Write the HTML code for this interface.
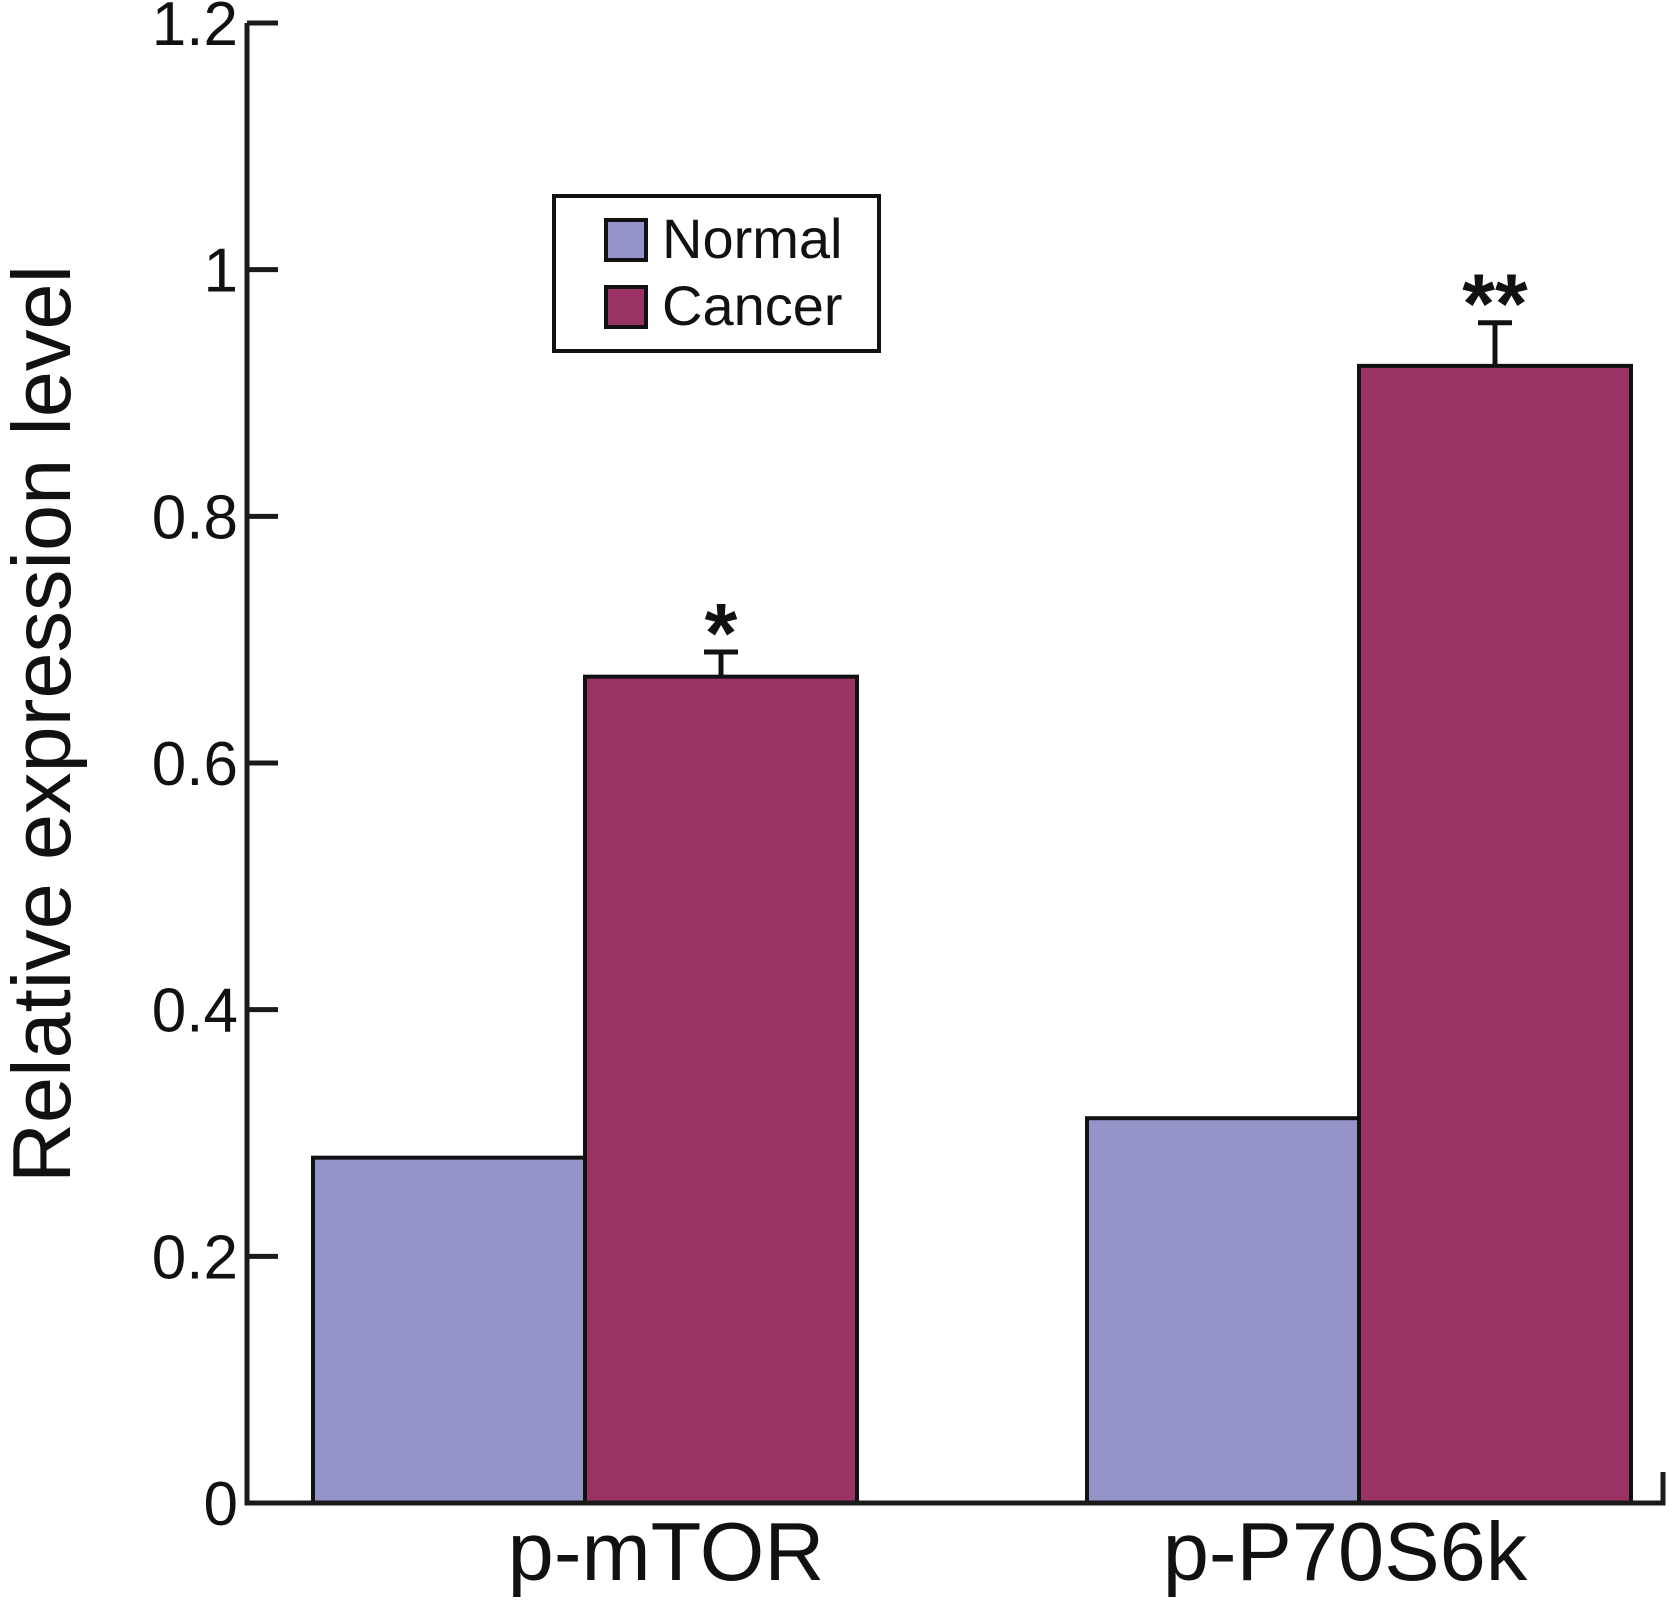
<!DOCTYPE html>
<html><head><meta charset="utf-8"><style>
html,body{margin:0;padding:0;background:#fff;}
svg{display:block;font-family:"Liberation Sans",Arial,sans-serif;}
</style></head><body>
<svg id="chart" width="1677" height="1606" viewBox="0 0 1677 1606" xmlns="http://www.w3.org/2000/svg"></svg>
<script>
const categories = ["p-mTOR", "p-P70S6k"];
const normalValues = [0.28, 0.312];
const cancerValues = [0.67, 0.922];
const cancerErrors = [0.02, 0.035];
const significance = ["*", "**"];
const yTicks = [0, 0.2, 0.4, 0.6, 0.8, 1, 1.2];
const yTickLabels = ["0", "0.2", "0.4", "0.6", "0.8", "1", "1.2"];

const NS = "http://www.w3.org/2000/svg";
const svg = document.getElementById("chart");
const x0 = 247, yBase = 1503, yTop = 23, yMax = 1.2;
function yScale(v){ return yBase - (v / yMax) * (yBase - yTop); }
const groupLeft = [313, 1087];
const labelShift = [81, -14];
const barW = 272;
function el(tag, attrs, parent){
  const e = document.createElementNS(NS, tag);
  for (const k in attrs) e.setAttribute(k, attrs[k]);
  (parent || svg).appendChild(e);
  return e;
}

categories.forEach((c, i) => {
  const xl = groupLeft[i];
  const yn = yScale(normalValues[i]);
  const nb = el("rect", {x: xl, y: yn, width: barW, height: yBase - yn, fill: "#9494c8", stroke: "#111", "stroke-width": 4});
  
  
  const yc = yScale(cancerValues[i]);
  const cb = el("rect", {x: xl + barW, y: yc, width: barW, height: yBase - yc, fill: "#9b3264", stroke: "#111", "stroke-width": 4});
  
  
  const cx = xl + barW * 1.5;
  const ye = yScale(cancerValues[i] + cancerErrors[i]);
  const eb = el("path", {d: `M${cx},${yc} V${ye} M${cx-17},${ye} H${cx+17}`, stroke: "#111", "stroke-width": 5, fill: "none"});
  
  
  const st = el("text", {x: cx, y: ye + 10, "text-anchor": "middle", "font-size": 84, "font-weight": "bold", fill: "#111"});
  st.textContent = significance[i];
  
  
  const lb = el("text", {x: xl + barW + labelShift[i], y: 1580, "text-anchor": "middle", "font-size": 83, fill: "#111"});
  lb.textContent = c;
  
  
});

const ax = el("path", {d: `M${x0},${yTop} V${yBase} H1663 V1472`, stroke: "#1a1a1a", "stroke-width": 5, fill: "none"});


yTicks.forEach((t, i) => {
  const y = yScale(t);
  const tk = el("line", {x1: x0, x2: 278, y1: y, y2: y, stroke: "#1a1a1a", "stroke-width": 5});
  
  
  const tl = el("text", {x: 238, y: y + 22, "text-anchor": "end", "font-size": 62, fill: "#111"});
  tl.textContent = yTickLabels[i];
  
  
});
const yt = el("text", {x: 0, y: 0, "text-anchor": "middle", "font-size": 83, fill: "#111", transform: "translate(70,724) rotate(-90)"});
yt.textContent = "Relative expression level";



const lg = el("g", {});


el("rect", {x: 554, y: 196, width: 325, height: 155, fill: "#fff", stroke: "#111", "stroke-width": 4}, lg);
const legendItems = [["Normal", "#9494c8", 220], ["Cancer", "#9b3264", 287]];
legendItems.forEach(([name, col, y]) => {
  const s = el("rect", {x: 606, y: y, width: 40, height: 40, fill: col, stroke: "#111", "stroke-width": 4}, lg);
  
  
  const t = el("text", {x: 662, y: y + 38, "font-size": 56, fill: "#111"}, lg);
  t.textContent = name;
  
  
});
</script>
</body></html>
